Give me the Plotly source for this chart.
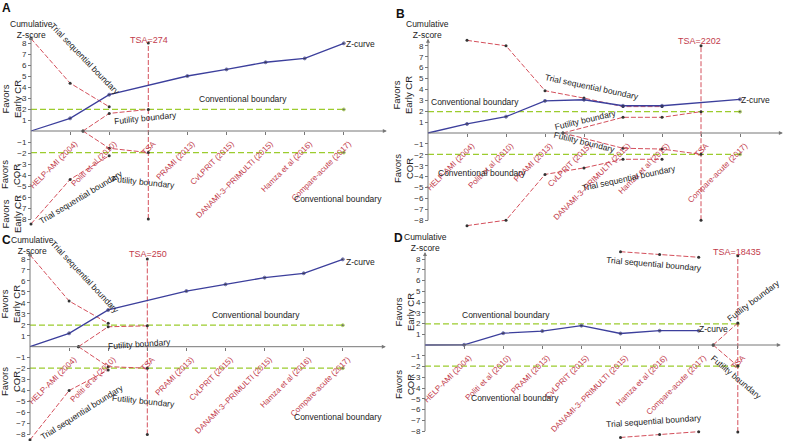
import plotly.graph_objects as go

W, H = 786, 441
FONT = "Liberation Sans, Arial, sans-serif"
RED_TXT = "#c23b4b"
RED_LN = "#d4505c"
BLUE = "#3c3f9c"
GREEN = "#9ccc2e"
AXC = "#777777"

# ---------------- data ----------------
tick_pos = [1, 2, 3, 4, 5, 6, 7, 8]
y_ticks = [-8, -7, -6, -5, -4, -3, -2, -1, 1, 2, 3, 4, 5, 6, 7, 8]
y_ticktext = ["\u22128", "\u22127", "\u22126", "\u22125", "\u22124", "\u22123", "\u22122", "\u22121",
              "1", "2", "3", "4", "5", "6", "7", "8"]

labels_A = ["HELP-AMI (2004)", "Politi et al (2010)", "TSA", "PRAMI (2013)", "CvLPRIT (2015)",
            "DANAMI-3\u2013PRIMULTI (2015)", "Hamza et al (2016)", "Compare-acute (2017)"]
labels_B = ["HELP-AMI (2004)", "Politi et al (2010)", "PRAMI (2013)", "CvLPRIT (2015)",
            "DANAMI-3\u2013PRIMULTI (2015)", "Hamza et al (2016)", "TSA", "Compare-acute (2017)"]
labels_C = labels_A
labels_D = ["HELP-AMI (2004)", "Politi et al (2010)", "PRAMI (2013)", "CvLPRIT (2015)",
            "DANAMI-3\u2013PRIMULTI (2015)", "Hamza et al (2016)", "Compare-acute (2017)", "TSA"]

conv_bound = 1.96

# Panel A
zA_x = [0, 1, 2, 4, 5, 6, 7, 8]
zA = [0, 1.15, 3.3, 5.0, 5.6, 6.25, 6.6, 7.97]
tsbA_x = [0, 1, 2]
tsbA_up = [8.4, 4.35, 2.2]
tsbA_lo = [-8.45, -4.4, -2.25]
futA_x = [1.33, 2, 3]
futA_up = [0, 1.6, 1.96]
futA_lo = [0, -1.57, -1.96]
tsaA_x = 3
tsaA_span = [-8, 8]
convA_end = 8

# Panel B
zB_x = [0, 1, 2, 3, 4, 5, 6, 8]
zB = [0, 0.83, 1.5, 2.95, 3.05, 2.5, 2.5, 3.09]
tsbB_x = [1, 2, 3, 4, 5, 6]
tsbB_up = [8.5, 8.0, 3.88, 3.2, 2.42, 2.42]
tsbB_lo = [-8.5, -8.0, -3.8, -3.2, -2.41, -2.41]
futB_x = [3.46, 5, 6, 7]
futB_up = [0, 1.44, 1.44, 1.96]
futB_lo = [0, -1.4, -1.47, -1.96]
tsaB_x = 7
tsaB_span = [-8, 8]
convB_end = 8

# Panel C
zC_x = [0, 1, 2, 4, 5, 6, 7, 8]
zC = [0, 1.22, 3.35, 5.08, 5.69, 6.3, 6.7, 7.97]
tsbC_x = [0, 1, 2]
tsbC_up = [8.37, 4.17, 2.13]
tsbC_lo = [-8.5, -4.0, -2.13]
futC_x = [1.24, 2, 3]
futC_up = [0, 1.82, 1.9]
futC_lo = [0, -1.82, -1.96]
tsaC_x = 3
tsaC_span = [-8, 8]
convC_end = 8

# Panel D
zD_x = [0, 1, 2, 3, 4, 5, 6, 7]
zD = [0, 0.02, 1.1, 1.3, 1.8, 1.07, 1.33, 1.33]
tsbD_x = [5, 6, 7]
tsbD_up = [8.68, 8.42, 8.16]
tsbD_lo = [-8.6, -8.33, -8.06]
futD_x = [7.37, 8]
futD_up = [0, 2.05]
futD_lo = [0, -1.96]
tsaD_x = 8
tsaD_span = [-8.1, 8.3]
convD_end = 8

panels = [
    dict(z_x=zA_x, z=zA, tsb_x=tsbA_x, tsb_up=tsbA_up, tsb_lo=tsbA_lo, fut_x=futA_x, fut_up=futA_up,
         fut_lo=futA_lo, tsa_x=tsaA_x, tsa_span=tsaA_span, conv_end=convA_end, labels=labels_A,
         ox=31, oy=131, ux=39.1, uy=11.0),
    dict(z_x=zB_x, z=zB, tsb_x=tsbB_x, tsb_up=tsbB_up, tsb_lo=tsbB_lo, fut_x=futB_x, fut_up=futB_up,
         fut_lo=futB_lo, tsa_x=tsaB_x, tsa_span=tsaB_span, conv_end=convB_end, labels=labels_B,
         ox=428, oy=133, ux=39.0, uy=10.9),
    dict(z_x=zC_x, z=zC, tsb_x=tsbC_x, tsb_up=tsbC_up, tsb_lo=tsbC_lo, fut_x=futC_x, fut_up=futC_up,
         fut_lo=futC_lo, tsa_x=tsaC_x, tsa_span=tsaC_span, conv_end=convC_end, labels=labels_C,
         ox=30, oy=346.7, ux=39.1, uy=10.96),
    dict(z_x=zD_x, z=zD, tsb_x=tsbD_x, tsb_up=tsbD_up, tsb_lo=tsbD_lo, fut_x=futD_x, fut_up=futD_up,
         fut_lo=futD_lo, tsa_x=tsaD_x, tsa_span=tsaD_span, conv_end=convD_end, labels=labels_D,
         ox=425, oy=345, ux=39.1, uy=10.75),
]

fig = go.Figure()
annotations = []


def px(x):
    return x / W


def py(y):
    return 1 - y / H


for i, p in enumerate(panels):
    sfx = "" if i == 0 else str(i + 1)
    xref, yref = "x" + sfx, "y" + sfx
    ox, oy, ux, uy = p["ox"], p["oy"], p["ux"], p["uy"]
    # ranges limited so that the domain stays inside the page
    xr = [max(-0.4, -(ox - 0.5) / ux), min(9.3, (W - 0.5 - ox) / ux)]
    yr = [max(-9.0, -(H - 0.5 - oy) / uy), min(9.3, (oy - 0.5) / uy)]
    xdom = [px(ox + xr[0] * ux), px(ox + xr[1] * ux)]
    ydom = [py(oy - yr[0] * uy), py(oy - yr[1] * uy)]
    mk = dict(size=3, color="#333333")
    common = dict(xaxis=xref, yaxis=yref, showlegend=False, hoverinfo="skip", cliponaxis=False)

    # conventional boundaries
    for s in (1, -1):
        fig.add_trace(go.Scatter(x=[0, p["conv_end"]], y=[s * conv_bound] * 2, mode="lines+markers",
                                 line=dict(color=GREEN, width=1.3, dash="6px,3px"),
                                 marker=dict(size=[0, 3], color="#333333"), **common))
    # TSA line
    fig.add_trace(go.Scatter(x=[p["tsa_x"]] * 2, y=p["tsa_span"], mode="lines+markers",
                             line=dict(color=RED_LN, width=1, dash="5px,2px"), marker=mk, **common))
    # trial sequential boundaries
    for key in ("tsb_up", "tsb_lo"):
        fig.add_trace(go.Scatter(x=p["tsb_x"], y=p[key], mode="lines+markers",
                                 line=dict(color=RED_LN, width=1, dash="5px,2px"), marker=mk, **common))
    # futility boundaries
    for key in ("fut_up", "fut_lo"):
        fig.add_trace(go.Scatter(x=p["fut_x"], y=p[key], mode="lines+markers",
                                 line=dict(color=RED_LN, width=1, dash="5px,2px"), marker=mk, **common))
    # Z-curve
    fig.add_trace(go.Scatter(x=p["z_x"], y=p["z"], mode="lines+markers",
                             line=dict(color=BLUE, width=1.3),
                             marker=dict(size=[0] + [3] * (len(p["z"]) - 1), color="#333333"), **common))

    fig.layout["xaxis" + sfx] = dict(
        domain=xdom, range=xr, anchor="free", position=py(oy),
        tickmode="array", tickvals=tick_pos, ticktext=p["labels"], tickangle=-45,
        tickfont=dict(size=8, color=RED_TXT, family=FONT), ticks="outside", ticklen=3,
        ticklabelshift=5, ticklabelstandoff=1,
        tickcolor=AXC, showline=False, showgrid=False, zeroline=False, fixedrange=True)
    fig.layout["yaxis" + sfx] = dict(
        domain=ydom, range=yr, anchor="free", position=px(ox),
        tickmode="array", tickvals=y_ticks, ticktext=y_ticktext,
        tickfont=dict(size=8, color="#333333", family=FONT), ticks="outside", ticklen=3,
        tickcolor=AXC, showline=False, showgrid=False, zeroline=False, fixedrange=True)

    # axis lines with arrows
    annotations.append(dict(x=9.1, y=0, ax=0, ay=0, xref=xref, yref=yref, axref=xref, ayref=yref,
                            text="", showarrow=True, arrowhead=2, arrowsize=0.8, arrowwidth=1,
                            arrowcolor=AXC, standoff=0, startstandoff=0))
    annotations.append(dict(x=0, y=8.65, ax=0, ay=-8.15, xref=xref, yref=yref, axref=xref, ayref=yref,
                            text="", showarrow=True, arrowhead=2, arrowsize=0.8, arrowwidth=1,
                            arrowcolor=AXC, standoff=0, startstandoff=0))


def txt(t, x, y, angle=0, color="#222222", size=8.5, bold=False):
    annotations.append(dict(text=("<b>%s</b>" % t) if bold else t, x=px(x), y=py(y), xref="paper",
                            yref="paper", showarrow=False, textangle=angle, xanchor="center",
                            yanchor="middle", font=dict(size=size, color=color, family=FONT)))


# panel letters
txt("A", 6, 8, size=12, color="#111111", bold=True)
txt("B", 400, 14, size=12, color="#111111", bold=True)
txt("C", 6, 240, size=12, color="#111111", bold=True)
txt("D", 398, 238, size=12, color="#111111", bold=True)

# Cumulative Z-score
txt("Cumulative<br>Z-score", 31, 29, size=8.5)
txt("Cumulative<br>Z-score", 427, 30, size=8.5)
txt("Cumulative<br>Z-score", 32, 246, size=8.5)
txt("Cumulative<br>Z-score", 425, 243, size=8.5)

# Favors labels
fav = 9.5
txt("Favors<br>Early CR", 11, 99, angle=-90, size=fav)
txt("Favors<br>COR", 11, 175, angle=-90, size=fav)
txt("Favors<br>Early CR", 11, 214, angle=-90, size=fav)
txt("Favors<br>Early CR", 403, 95, angle=-90, size=fav)
txt("Favors<br>COR", 403, 168, angle=-90, size=fav)
txt("Favors<br>Early CR", 10, 304, angle=-90, size=fav)
txt("Favors<br>COR", 10, 382, angle=-90, size=fav)
txt("Favors<br>Early CR", 404, 312, angle=-90, size=fav)
txt("Favors<br>COR", 404, 385, angle=-90, size=fav)

# Panel A texts
txt("TSA=274", 149, 40, color=RED_TXT, size=9)
txt("Trial sequential boundary", 85, 59, angle=46)
txt("Z-curve", 360, 44)
txt("Conventional boundary", 243, 99)
txt("Futility boundary", 145, 118, angle=-6)
txt("Futility boundary", 143, 182, angle=6)
txt("Trial sequential boundary", 81, 197, angle=-31)
txt("Conventional boundary", 338, 199)

# Panel B texts
txt("TSA=2202", 699, 41, color=RED_TXT, size=9)
txt("Conventional boundary", 475, 102)
txt("Conventional boundary", 482, 173)
txt("Trial sequential boundary", 592, 87, angle=12)
txt("Futility boundary", 585, 120, angle=-13)
txt("Futility boundary", 584, 142, angle=14)
txt("Trial sequential boundary", 629, 178, angle=-12)
txt("Z-curve", 755, 100)

# Panel C texts
txt("TSA=250", 148, 254, color=RED_TXT, size=9)
txt("Trial sequential boundary", 85, 277, angle=47)
txt("Futility boundary", 139, 344, angle=-4)
txt("Futility boundary", 143, 401, angle=6)
txt("Trial sequential boundary", 82, 412, angle=-32)
txt("Conventional boundary", 256, 315)
txt("Conventional boundary", 338, 417)
txt("Z-curve", 360, 262)

# Panel D texts
txt("TSA=18435", 737, 252, color=RED_TXT, size=9)
txt("Trial sequential boundary", 654, 264, angle=5)
txt("Trial sequential boundary", 654, 421, angle=-4)
txt("Conventional boundary", 506, 315)
txt("Conventional boundary", 515, 398)
txt("Z-curve", 713, 329)
txt("Futility boundary", 753, 301, angle=-37)
txt("Futility boundary", 736, 377, angle=40)

fig.update_layout(width=W, height=H, margin=dict(l=0, r=0, t=0, b=0),
                  paper_bgcolor="white", plot_bgcolor="rgba(0,0,0,0)",
                  annotations=annotations, font=dict(family=FONT), showlegend=False)

fig.write_html("out.html", config={"displayModeBar": False, "staticPlot": True},
               post_script="document.body.style.margin='0';document.body.style.overflow='hidden';")
